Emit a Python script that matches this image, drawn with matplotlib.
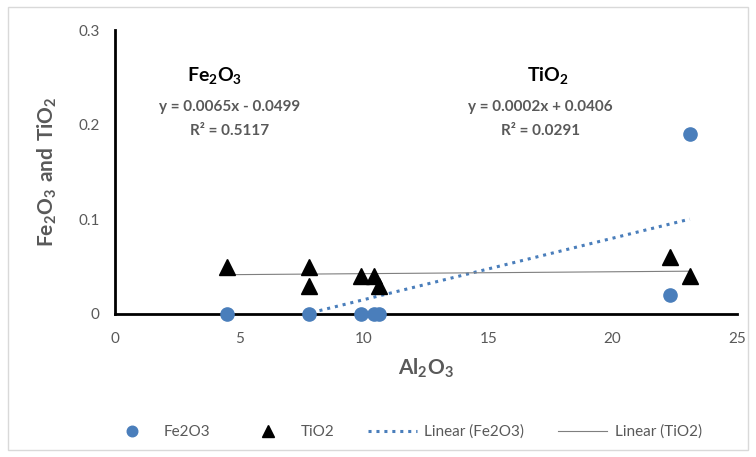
import matplotlib
matplotlib.use('Agg')
from matplotlib import pyplot as plt
from matplotlib.patches import Rectangle
import numpy as np

plt.rcParams['font.family'] = ['Lato', 'DejaVu Sans']
plt.rcParams['mathtext.fontset'] = 'custom'
plt.rcParams['mathtext.rm'] = 'Lato'
plt.rcParams['mathtext.bf'] = 'Lato:bold'

# data
al2o3 = [4.5, 7.8, 9.9, 10.4, 10.6, 22.3, 23.1]
fe2o3 = [0, 0, 0, 0, 0, 0.02, 0.19]
al2o3_ti = [4.5, 7.8, 7.8, 9.9, 10.4, 10.6, 22.3, 23.1]
tio2 = [0.05, 0.05, 0.03, 0.04, 0.04, 0.03, 0.06, 0.04]

# trendline coefficients as printed on the chart
fe_fit = (0.0065, -0.0499, 0.5117)
ti_fit = (0.0002, 0.0406, 0.0291)

grey = '#595959'
blue = '#4a7ebb'

fig = plt.figure(figsize=(7.56, 4.57), dpi=100)
ax = fig.add_axes([0.152, 0.313, 0.823, 0.621])

xs = np.linspace(min(al2o3), max(al2o3), 50)
ax.plot(xs, fe_fit[0] * xs + fe_fit[1], ls=(0, (1, 1.6)), lw=2.2, c=blue,
		label='Linear (Fe2O3)', zorder=2)
xt = np.linspace(min(al2o3_ti), max(al2o3_ti), 50)
ax.plot(xt, ti_fit[0] * xt + ti_fit[1], ls='-', lw=0.8, c='#7f7f7f',
		label='Linear (TiO2)', zorder=2)
ax.plot(al2o3, fe2o3, 'o', ms=9.5, c=blue, mec=blue, label='Fe2O3', zorder=3, clip_on=False)
ax.plot(al2o3_ti, tio2, '^', ms=11, c='black', label='TiO2', zorder=3, clip_on=False)

ax.set_xlim(0, 25)
ax.set_ylim(0, 0.3)
ax.set_xticks([0, 5, 10, 15, 20, 25])
ax.set_yticks([0, 0.1, 0.2, 0.3])
ax.set_yticklabels(['0', '0.1', '0.2', '0.3'])
ax.tick_params(length=0, labelsize=11, labelcolor=grey)
ax.tick_params(axis='x', pad=13)
ax.tick_params(axis='y', pad=11)
for s in ['top', 'right']:
	ax.spines[s].set_visible(False)
for s in ['left', 'bottom']:
	ax.spines[s].set_linewidth(2)
	ax.spines[s].set_color('black')

ax.set_xlabel(r'$\mathbf{Al_2O_3}$', fontsize=15, color=grey, labelpad=8)
ax.set_ylabel(r'$\mathbf{Fe_2O_3\ and\ TiO_2}$', fontsize=15, color=grey, labelpad=14)

# equation labels
ax.text(4.0, 0.2525, r'$\mathbf{Fe_2O_3}$', fontsize=14, ha='center', va='center')
ax.text(4.6, 0.2187, 'y = %.4fx - %.4f' % (fe_fit[0], -fe_fit[1]), fontsize=11,
		fontweight='bold', color=grey, ha='center', va='center')
ax.text(4.6, 0.1933, 'R² = %.4f' % fe_fit[2], fontsize=11,
		fontweight='bold', color=grey, ha='center', va='center')
ax.text(17.4, 0.2525, r'$\mathbf{TiO_2}$', fontsize=14, ha='center', va='center')
ax.text(17.1, 0.2187, 'y = %.4fx + %.4f' % (ti_fit[0], ti_fit[1]), fontsize=11,
		fontweight='bold', color=grey, ha='center', va='center')
ax.text(17.1, 0.1933, 'R² = %.4f' % ti_fit[2], fontsize=11,
		fontweight='bold', color=grey, ha='center', va='center')

h, l = ax.get_legend_handles_labels()
order = [2, 3, 0, 1]
fig.legend([h[i] for i in order], [l[i] for i in order], loc='center',
		   bbox_to_anchor=(0.535, 0.055), ncol=4, frameon=False, fontsize=11,
		   labelcolor=grey, handlelength=3.2, handletextpad=0.5,
		   columnspacing=2.2, markerscale=0.8)

fig.patches.append(Rectangle((0.011, 0.015), 0.978, 0.97, transform=fig.transFigure,
							 fill=False, ec='#d9d9d9', lw=1))

fig.savefig('out.png', dpi=100)
